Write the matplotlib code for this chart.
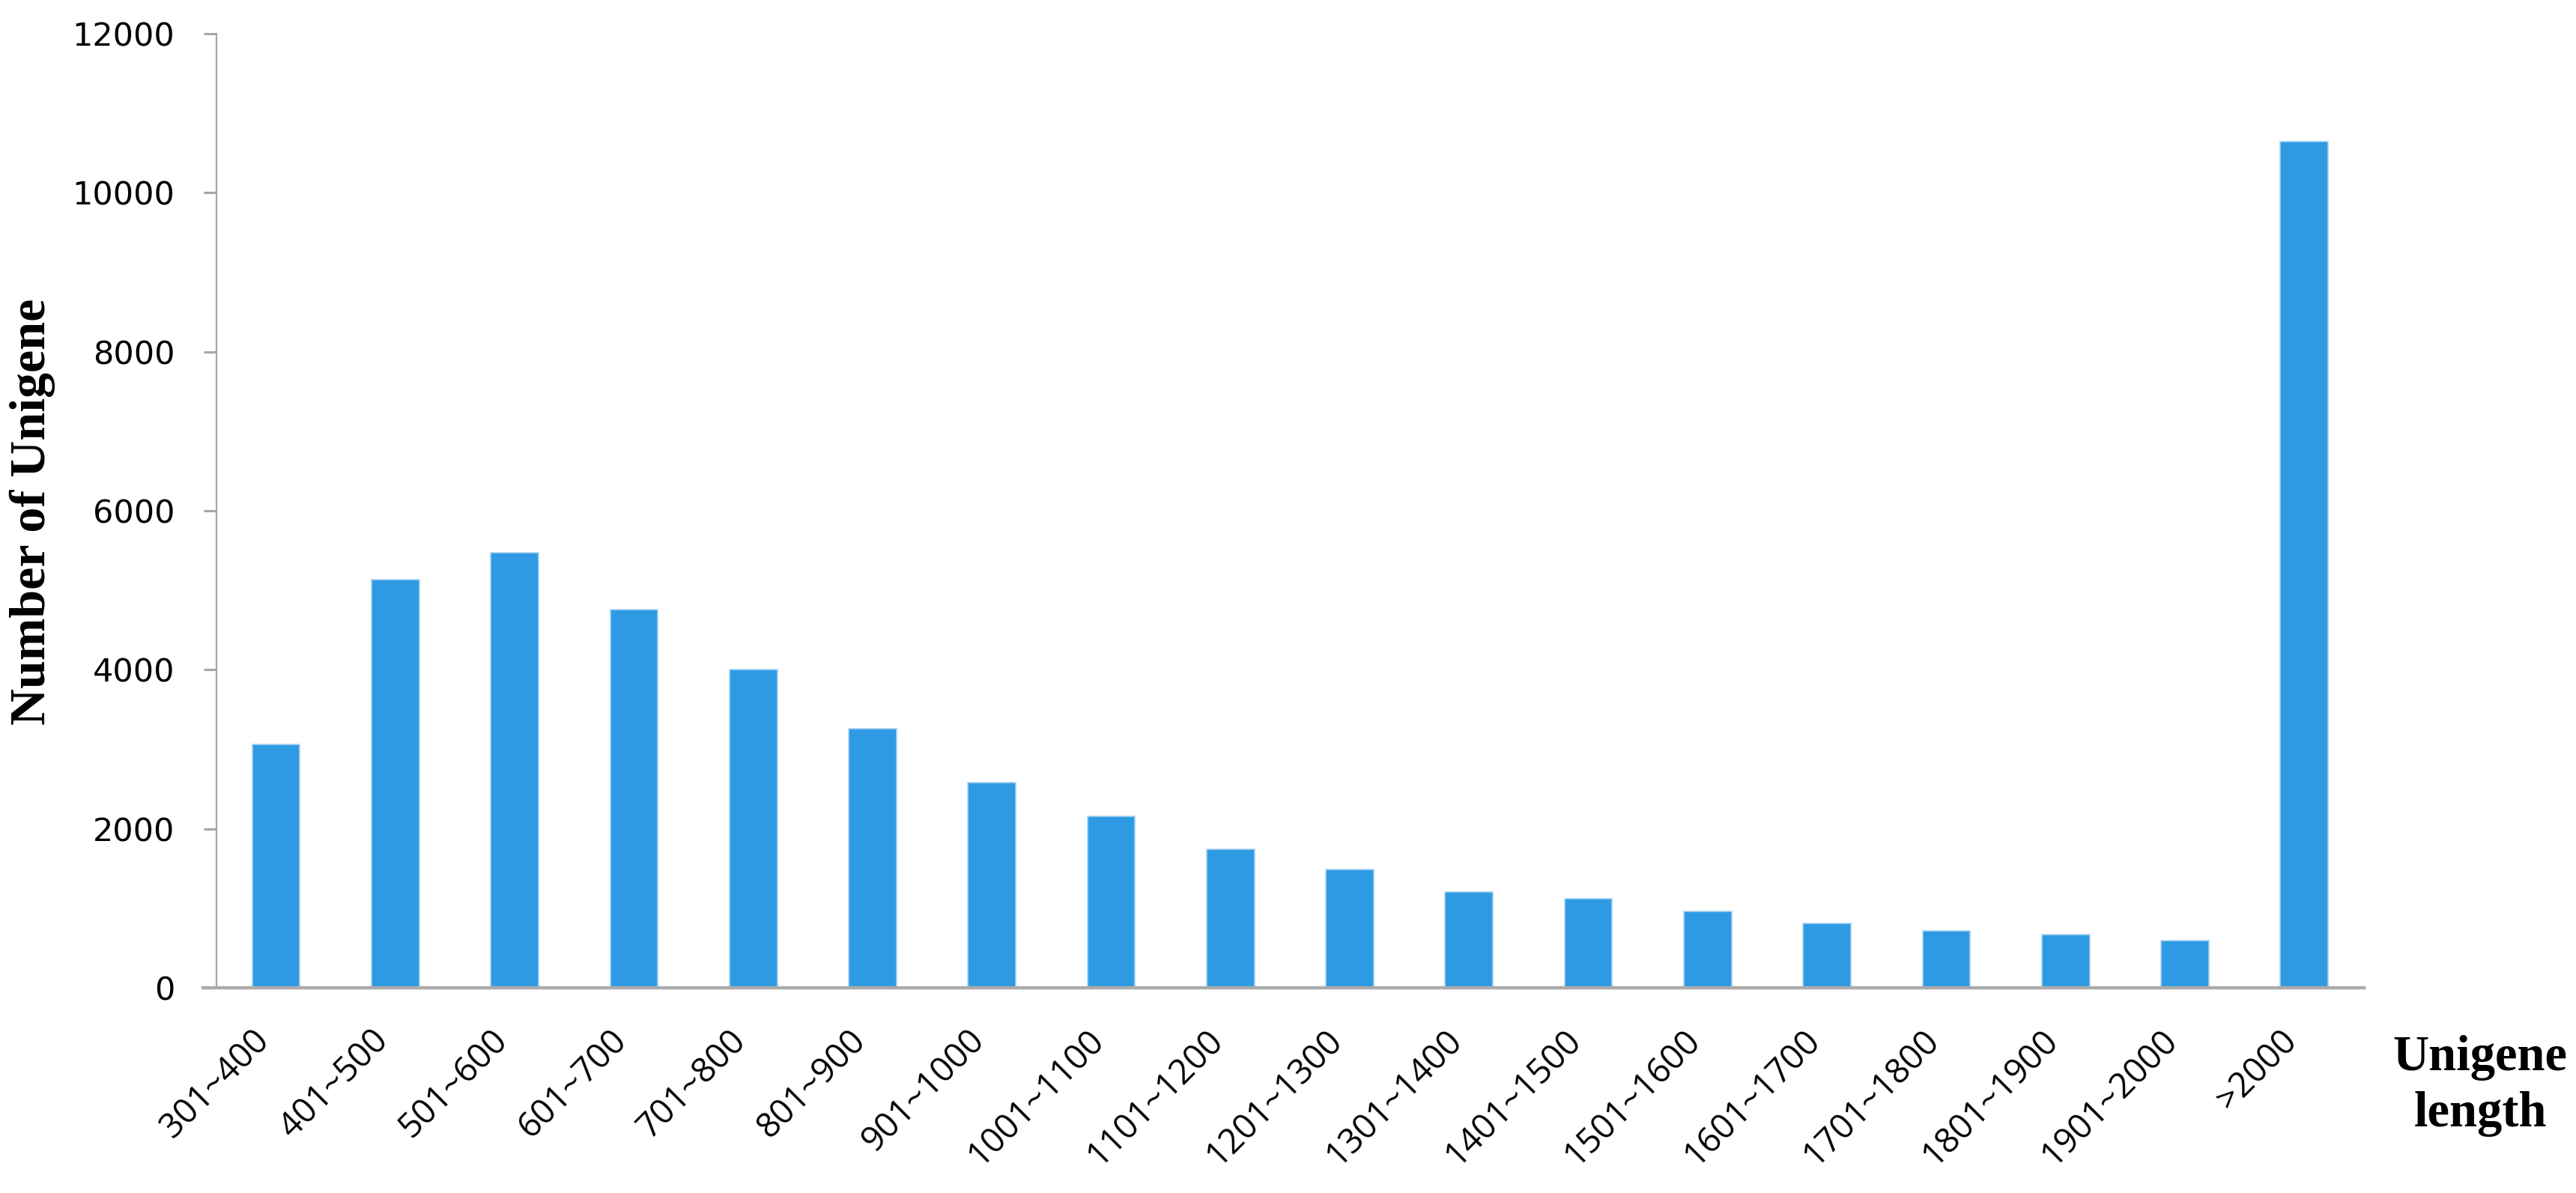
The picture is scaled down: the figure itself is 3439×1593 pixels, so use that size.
import numpy as np
import matplotlib
matplotlib.use("Agg")
import matplotlib.pyplot as plt

# -----------------------------
# DADOS
# -----------------------------

categorias = ["301~400", "401~500", "501~600", "601~700", "701~800",
              "801~900", "901~1000", "1001~1100", "1101~1200", "1201~1300",
              "1301~1400", "1401~1500", "1501~1600", "1601~1700",
              "1701~1800", "1801~1900", "1901~2000", ">2000"]

num_unigene = [3060, 5130, 5476, 4754, 4000, 3258, 2578, 2161, 1747,
               1485, 1207, 1122, 964, 812, 717, 673, 597, 10640]

y_ticks = [0, 2000, 4000, 6000, 8000, 10000, 12000]

# -----------------------------
# GRÁFICO
# -----------------------------

cinza = "#A6A6A6"
azul = "#2E9AE3"

fig = plt.figure(figsize=(17.195, 7.965), dpi=200)
ax = fig.add_axes([0.0840, 0.1720, 0.9177 - 0.0840, 0.9717 - 0.1720])

x = np.arange(len(categorias))
ax.bar(x, num_unigene, width=0.40, color=azul,
       edgecolor="#A9D3F3", linewidth=0.6)

ax.set_xlim(-0.5, len(categorias) - 0.5)
ax.set_ylim(0, 12000)
ax.set_yticks(y_ticks)
ax.set_yticklabels([str(v) for v in y_ticks],
                   fontsize=15.5, family="DejaVu Sans")

ax.set_xticks(x)
ax.set_xticklabels(categorias, rotation=45, ha="right", va="top",
                   fontsize=16.5, family="Open Sans")

ax.tick_params(axis="y", length=6, width=1.1, color=cinza, pad=14)
ax.tick_params(axis="x", length=0, pad=17)

for lado in ["top", "right"]:
    ax.spines[lado].set_visible(False)
ax.spines["left"].set_color(cinza)
ax.spines["left"].set_linewidth(0.8)
ax.spines["bottom"].set_color("#ABABAB")
ax.spines["bottom"].set_linewidth(1.6)
ax.spines["bottom"].set_bounds(-0.61, len(categorias) - 0.5)

fig.text(0.0125, 0.571, "Number of Unigene", rotation=90,
         ha="center", va="center", fontsize=24.5,
         fontweight="bold", family="Liberation Serif")

fig.text(0.9628, 0.0898, "Unigene\nlength", ha="center", va="center",
         fontsize=24, fontweight="bold", family="Liberation Serif",
         linespacing=1.3)

fig.savefig("out.png", dpi=200, facecolor="white")
